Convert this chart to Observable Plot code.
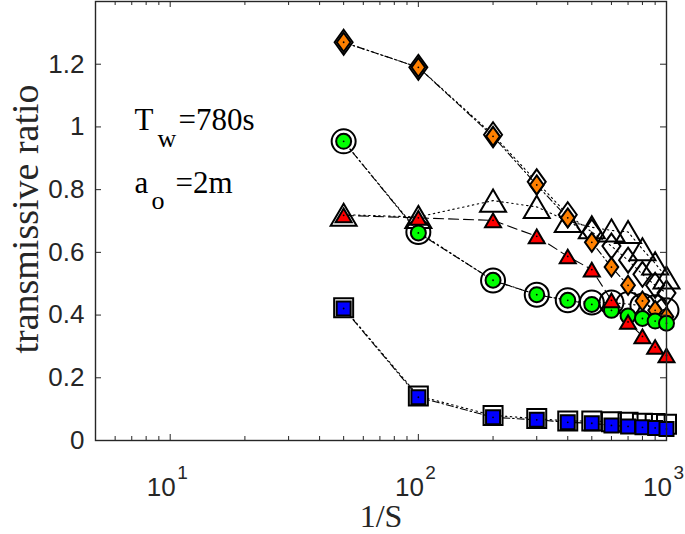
<!DOCTYPE html>
<html>
<head>
<meta charset="utf-8">
<script src="https://cdn.jsdelivr.net/npm/d3@7"></script>
<script src="https://cdn.jsdelivr.net/npm/@observablehq/plot@0.6"></script>
<style>
  html, body { margin: 0; padding: 0; background: #fff; }
  #chart svg { display: block; }
</style>
</head>
<body>
<div id="chart"></div>
<script>
// ---- data ----
const invS = [50, 100, 200, 300, 400, 500, 600, 700, 800, 900, 1000];

const diamondFilled  = [1.27, 1.19, 0.97, 0.815, 0.71, 0.632, 0.553, 0.495, 0.445, 0.415, 0.395];
const diamondHollow  = [1.27, 1.19, 0.975, 0.825, 0.72, 0.665, 0.62, 0.575, 0.53, 0.495, 0.47];
const circleFilled   = [0.954, 0.662, 0.511, 0.465, 0.447, 0.434, 0.415, 0.397, 0.389, 0.381, 0.374];
const circleHollow   = [0.954, 0.665, 0.51, 0.465, 0.447, 0.44, 0.44, 0.435, 0.43, 0.425, 0.415];
const triangleFilled = [0.718, 0.71, 0.702, 0.651, 0.587, 0.545, 0.447, 0.378, 0.332, 0.298, 0.271];
const triangleHollow = [0.72, 0.713, 0.765, 0.745, 0.70, 0.68, 0.67, 0.665, 0.61, 0.565, 0.52];
const squareFilled   = [0.421, 0.138, 0.074, 0.066, 0.058, 0.055, 0.048, 0.045, 0.042, 0.04, 0.037];
const squareHollow   = [0.423, 0.142, 0.08, 0.07, 0.062, 0.062, 0.06, 0.058, 0.055, 0.054, 0.052];

const yTicks = [0, 0.2, 0.4, 0.6, 0.8, 1, 1.2];
const xMajor = [10, 100, 1000];
const xMajorBase = ["10", "10", "10"];
const xMajorExp = ["1", "2", "3"];
const xMinor = [6, 7, 8, 9, 20, 30, 40, 50, 60, 70, 80, 90, 200, 300, 400, 500, 600, 700, 800, 900];

// ---- helpers ----
const rows = arr => invS.map((x, i) => ({x, y: arr[i]}));

const diamond = {draw(ctx, size) { const r = Math.sqrt(size / Math.PI), w = r * 0.72;
  ctx.moveTo(0, -r); ctx.lineTo(w, 0); ctx.lineTo(0, r); ctx.lineTo(-w, 0); ctx.closePath(); }};
const triangle = {draw(ctx, size) { const r = Math.sqrt(size / Math.PI), h = r * 0.85;
  ctx.moveTo(0, -h); ctx.lineTo(r, h); ctx.lineTo(-r, h); ctx.closePath(); }};
const square = {draw(ctx, size) { const r = Math.sqrt(size / Math.PI);
  ctx.moveTo(-r, -r); ctx.lineTo(r, -r); ctx.lineTo(r, r); ctx.lineTo(-r, r); ctx.closePath(); }};

const W = 685, H = 534, mL = 95, mR = 19, mT = 1, mB = 94;
const pw = W - mL - mR, ph = H - mT - mB;
const axisColor = "#262626";

const series = [
  {hollow: diamondHollow, filled: diamondFilled, sym: diamond, color: "#FF8000", rF: 9.5, rH: 12.5, dashF: "7,3,1.5,3"},
  {hollow: circleHollow, filled: circleFilled, sym: "circle", color: "#00FF00", rF: 7.5, rH: 12, dashF: "7,3,1.5,3"},
  {hollow: triangleHollow, filled: triangleFilled, sym: triangle, color: "#FF0000", rF: 8, rH: 13, dashF: "10,5"},
  {hollow: squareHollow, filled: squareFilled, sym: square, color: "#0000FF", rF: 7, rH: 9.5, dashF: "7,3,1.5,3"}
];

const marks = [];
// lines
for (const s of series) {
  marks.push(Plot.line(rows(s.hollow), {x: "x", y: "y", stroke: "black", strokeWidth: 1.1, strokeDasharray: "1.5,3.5"}));
  marks.push(Plot.line(rows(s.filled), {x: "x", y: "y", stroke: "black", strokeWidth: 1.1, strokeDasharray: s.dashF}));
}
// hollow markers
for (const s of series) {
  marks.push(Plot.dot(rows(s.hollow), {x: "x", y: "y", symbol: s.sym, r: s.rH, fill: "none", stroke: "black", strokeWidth: 2}));
}
// filled markers
for (const s of series) {
  marks.push(Plot.dot(rows(s.filled), {x: "x", y: "y", symbol: s.sym, r: s.rF, fill: s.color, stroke: "black", strokeWidth: 2}));
  marks.push(Plot.dot(rows(s.filled), {x: "x", y: "y", r: 0.9, fill: "black"}));
}

// frame and inward ticks
marks.push(Plot.frame({stroke: axisColor, strokeWidth: 1.4}));
marks.push(Plot.tickY(yTicks, {y: d => d, insetRight: pw - 6, stroke: axisColor}));
marks.push(Plot.tickY(yTicks, {y: d => d, insetLeft: pw - 6, stroke: axisColor}));
marks.push(Plot.tickX(xMajor, {x: d => d, insetTop: ph - 6, stroke: axisColor}));
marks.push(Plot.tickX(xMajor, {x: d => d, insetBottom: ph - 6, stroke: axisColor}));
marks.push(Plot.tickX(xMinor, {x: d => d, insetTop: ph - 4, stroke: axisColor}));
marks.push(Plot.tickX(xMinor, {x: d => d, insetBottom: ph - 4, stroke: axisColor}));

// y tick labels
marks.push(Plot.axisY(yTicks, {tickSize: 0, tickPadding: 11, fontSize: 26, tickFormat: d => String(d),
  fontFamily: "Liberation Sans, Arial, sans-serif", fill: axisColor, label: null}));
// x tick labels: 10^n
const xLab = xMajor.map((v, i) => ({v, base: xMajorBase[i], exp: xMajorExp[i]}));
marks.push(Plot.text(xLab, {x: "v", text: "base", frameAnchor: "bottom", textAnchor: "end", lineAnchor: "bottom",
  dx: 5.5, dy: 55, fontSize: 26, fontFamily: "Liberation Sans, Arial, sans-serif", fill: axisColor}));
marks.push(Plot.text(xLab, {x: "v", text: "exp", frameAnchor: "bottom", textAnchor: "start", lineAnchor: "bottom",
  dx: 7, dy: 38, fontSize: 19, fontFamily: "Liberation Sans, Arial, sans-serif", fill: axisColor}));

// axis titles
const serif = "Liberation Serif, Times New Roman, serif";
marks.push(Plot.text(["transmissive ratio"], {frameAnchor: "left", text: d => d, rotate: -90, textAnchor: "middle",
  lineAnchor: "bottom", dx: -58, dy: -2, fontSize: 38, fontFamily: serif, fill: axisColor}));
marks.push(Plot.text(["1/S"], {frameAnchor: "bottom", text: d => d, textAnchor: "middle",
  lineAnchor: "bottom", dy: 86, fontSize: 32, fontFamily: serif, fill: axisColor}));

// annotations
const ann = (t, dx, dy, fs) => Plot.text([t], {frameAnchor: "top-left", text: d => d, textAnchor: "start",
  lineAnchor: "bottom", dx, dy, fontSize: fs, fontFamily: serif, fill: "black"});
marks.push(ann("T", 39, 128, 31));
marks.push(ann("w", 62, 145, 26));
marks.push(ann("=780s", 83, 128, 31));
marks.push(ann("a", 39, 191, 31));
marks.push(ann("o", 56, 207, 26));
marks.push(ann("=2m", 80, 191, 31));

const chart = Plot.plot({
  width: W, height: H,
  marginLeft: mL, marginRight: mR, marginTop: mT, marginBottom: mB,
  style: {background: "white", overflow: "visible"},
  x: {type: "log", domain: [5, 1000], axis: null},
  y: {domain: [0, 1.4], axis: null},
  marks
});
document.getElementById("chart").appendChild(chart);
</script>
</body>
</html>
